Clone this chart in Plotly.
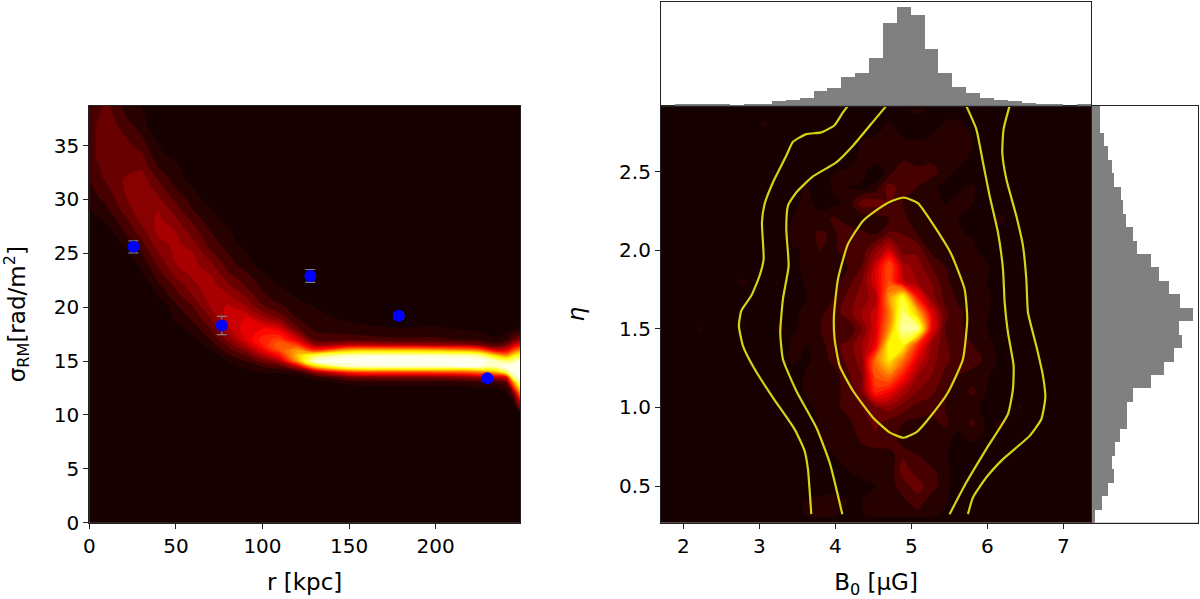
import numpy as np
import plotly.graph_objects as go

# Measured rotation measure dispersion per annulus
r_obs = [25.5, 76.5, 127.6, 178.7, 229.8]
sigma_obs = [25.6, 18.3, 22.9, 19.2, 13.4]
sigma_err = [0.55, 0.85, 0.6, 0.3, 0.3]

# Posterior density of sigma_RM(r), one list per radius, in percent of the colour range
sigma_rows = [0, 10, 11, 12, 13, 13.5, 14, 14.5, 15, 15.5, 16, 16.5, 17, 18, 19, 20, 21, 22, 23, 24,
              25, 26, 27, 28, 29, 30, 31, 32, 33, 34, 35, 36, 37, 38, 38.7]
r_cols = [0, 10, 20, 30, 40, 50, 60, 70, 80, 90, 100, 110, 120, 130, 150, 175, 200, 225, 235, 241, 245, 249]
density_by_r = [
    [0,0,0,0,0,0,0,0,0,0,0,0,0,0,0,0,0,0,0,0,0,0,0,0,4,6,7,8,9,10,10,10,10,9,9],
    [0,0,0,0,0,0,0,0,0,0,0,0,0,0,0,0,0,0,0,0,0,0,2,5,7,9,11,13,14,15,15,15.5,15,14,13],
    [0,0,0,0,0,0,0,0,0,0,0,0,0,0,0,0,0,0,0,0,2,5,8,10,13,15,16,16,16,15,14,12,10,8,7],
    [0,0,0,0,0,0,0,0,0,0,0,0,0,0,0,0,0,0,3,5,8,11,14,17,19,20,20,18,15,13,10,8,6,5,4],
    [0,0,0,0,0,0,0,0,0,0,0,0,0,0,0,0,4,7,10,13,16,19,21,21,20,17,14,11,8,5,4,2,0,0,0],
    [0,0,0,0,0,0,0,0,0,0,0,0,0,2,5,7,10,13,17,20,21,21,20,17,14,11,8,6,5,3,0,0,0,0,0],
    [0,0,0,0,0,0,0,0,0,0,0,0,3,6,9,12,16,19,21,21,20,17,14,11,8,6,4,2,0,0,0,0,0,0,0],
    [0,0,0,0,0,0,0,0,0,0,4,6,8,12,16,20,22,22,20,17,13,10,8,6,4.5,2,0,0,0,0,0,0,0,0,0],
    [0,0,0,0,0,0,0,2,4,7,10,13,17,23,26,25,21,17,13,10,8,6,5,3,0,0,0,0,0,0,0,0,0,0,0],
    [0,0,0,0,0,0,3,5,8,12,17,23,28,30,28,21,16,12,9,6,4.5,2,0,0,0,0,0,0,0,0,0,0,0,0,0],
    [0,0,0,0,0,2,4.5,8,14,22,30,36,38,32,21,13,9,7,5,2,0,0,0,0,0,0,0,0,0,0,0,0,0,0,0],
    [0,0,0,0,0,2,5,11,22,34,45,48,42,28,15,9,6,4,0,0,0,0,0,0,0,0,0,0,0,0,0,0,0,0,0],
    [0,0,0,0,0,2,7,24,55,62,56,42,28,13,8,6,3.5,0,0,0,0,0,0,0,0,0,0,0,0,0,0,0,0,0,0],
    [0,0,0,0,2,6,20,62,96,80,40,20,11,7,5.5,4,0,0,0,0,0,0,0,0,0,0,0,0,0,0,0,0,0,0,0],
    [0,0,0,0,5,14,42,92,100,94,60,24,10,6,3,0,0,0,0,0,0,0,0,0,0,0,0,0,0,0,0,0,0,0,0],
    [0,0,0,0,6,16,45,95,100,96,62,22,9,4.5,0,0,0,0,0,0,0,0,0,0,0,0,0,0,0,0,0,0,0,0,0],
    [0,0,0,0,6,16,46,95,100,95,60,20,9,4.5,2,0,0,0,0,0,0,0,0,0,0,0,0,0,0,0,0,0,0,0,0],
    [0,0,0,0,7,20,52,96,100,90,50,16,7,3,0,0,0,0,0,0,0,0,0,0,0,0,0,0,0,0,0,0,0,0,0],
    [0,0,0,0,8,24,62,94,92,65,28,10,5,0,0,0,0,0,0,0,0,0,0,0,0,0,0,0,0,0,0,0,0,0,0],
    [0,0,0,4,12,30,85,100,85,55,30,16,8,2,0,0,0,0,0,0,0,0,0,0,0,0,0,0,0,0,0,0,0,0,0],
    [0,0,3,14,55,88,100,100,90,70,45,26,13,4,0,0,0,0,0,0,0,0,0,0,0,0,0,0,0,0,0,0,0,0,0],
    [0,4,24,55,92,100,100,100,98,80,55,34,18,5,0,0,0,0,0,0,0,0,0,0,0,0,0,0,0,0,0,0,0,0,0],
]

# Joint posterior of B0 and eta, one list per eta value from the top down
b0_cols = [1.7, 2.05, 2.21, 2.37, 2.78, 3.07, 3.25, 3.43, 3.62, 3.80, 3.98, 4.16, 4.35, 4.53, 4.71, 4.89,
           5.08, 5.26, 5.44, 5.62, 5.81, 5.99, 6.17, 6.35, 6.42, 6.6, 7.36]
eta_rows = [2.9, 2.8, 2.7, 2.6, 2.5, 2.4, 2.3, 2.2, 2.1, 2.0, 1.9, 1.8, 1.7, 1.6, 1.5, 1.4, 1.3, 1.2, 1.1,
            1.0, 0.9, 0.8, 0.7, 0.6, 0.5, 0.4, 0.3]
density_by_eta = [
    [0,0,0,0,0,0, 0,0,0,0,0,0,0,0,0,3,6,3,0,0,0,5,0,0, 0,0,0],
    [0,0,0,0,0,5, 0,0,0,0,0,0,0,0,5,0,0,0,5,6,0,0,0,0, 0,0,0],
    [0,0,0,0,0,0, 0,0,0,0,0,0,4,6,8,5,4,6,6,7,4,0,0,0, 0,0,0],
    [0,0,0,0,0,0, 0,0,0,0,0,0,6,8,7,6,6,6,8,6,3,0,0,0, 0,0,0],
    [0,0,0,0,0,0, 0,0,0,0,4,5,6,0,6,12,9,10,6,3,0,0,0,0, 0,0,0],
    [0,0,0,0,0,0, 0,0,5,0,5,4,3,6,14,10,8,5,3,3,5,0,0,0, 0,0,0],
    [0,0,0,0,0,0, 0,3,5,3,3,5,14,14,12,8,7,5,4,6,4,0,0,0, 0,0,0],
    [0,0,0,0,0,0, 0,4,6,5,9,5,5,6,8,9,6,6,8,4,0,0,6,0, 0,0,0],
    [0,0,0,0,0,0, 0,6,6,9,7,12,9,8,13,12,8,6,5,5,3,0,0,0, 0,0,0],
    [0,0,0,0,0,0, 0,3,5,8,6,12,9,18,26,14,15,7,6,5,6,0,0,0, 0,0,0],
    [0,0,0,0,0,0, 0,3,5,6,5,8,12,26,45,22,18,12,8,6,6,5,0,0, 0,0,0],
    [0,0,0,0,5,0, 0,0,5,8,6,10,16,28,45,25,20,16,9,6,5,4,0,0, 0,0,0],
    [0,0,0,0,0,0, 0,3,4,6,8,13,18,22,55,76,35,18,11,7,5,6,0,0, 0,0,0],
    [0,0,0,0,0,0, 0,3,5,7,10,14,20,26,50,84,62,30,13,9,6,5,0,0, 0,0,0],
    [0,0,5,0,0,0, 5,3,6,8,10,8,16,28,55,90,88,32,12,9,6,4,0,0, 0,0,0],
    [0,0,0,0,0,0, 0,5,4,6,11,13,20,30,72,72,40,20,13,9,8,5,3,0, 0,0,0],
    [0,0,0,0,0,0, 0,5,3,6,9,13,18,50,68,50,28,18,13,10,10,7,3,0, 0,0,0],
    [0,0,0,0,0,0, 0,0,5,4,6,11,16,45,50,35,20,16,11,8,6,5,0,0, 0,0,0],
    [0,0,0,0,0,0, 0,0,5,5,6,10,16,38,32,22,16,13,9,6,9,4,0,0, 0,0,0],
    [0,0,0,0,0,0, 0,0,3,5,7,9,12,15,18,14,10,10,8,5,5,3,0,0, 5,0,0],
    [0,0,0,0,0,0, 0,0,0,5,6,7,10,13,10,8,7,6,9,5,9,3,5,0, 0,0,0],
    [0,0,0,0,0,0, 0,0,0,4,5,5,9,11,12,5,6,6,5,3,5,3,3,0, 0,0,0],
    [0,0,0,0,0,0, 0,0,0,0,4,5,6,6,6,11,8,5,5,0,0,0,0,0, 0,0,0],
    [0,0,0,0,0,0, 0,3,0,0,3,4,5,5,5,14,10,9,6,0,0,0,0,0, 0,0,0],
    [0,0,0,0,0,0, 0,0,0,0,3,4,3,4,6,10,14,10,6,0,0,0,0,0, 0,0,0],
    [0,0,0,0,0,0, 0,0,5,6,5,4,4,6,7,7,10,6,5,0,0,0,0,0, 0,0,0],
    [0,0,0,0,0,0, 0,0,5,5,4,3,3,6,6,5,6,4,3,0,0,0,0,0, 0,0,0],
]

# Credible-region contours of the joint posterior
outer_left_b0 = [4.166,4.10,3.99,3.815,3.618,3.443,3.355,3.179,3.07,3.035,3.057,3.004,2.894,2.763,2.732,2.785,2.938,3.179,3.464,3.596,3.64,3.684]
outer_left_eta = [2.919,2.877,2.796,2.75,2.739,2.69,2.601,2.431,2.294,2.177,1.943,1.838,1.71,1.615,1.519,1.392,1.244,1.063,0.862,0.724,0.607,0.321]
inner_left_b0 = [4.671,4.517,4.232,4.013,3.706,3.486,3.377,3.355,3.386,3.311,3.276,3.311,3.486,3.75,3.925,4.092]
inner_left_eta = [2.919,2.83,2.665,2.559,2.47,2.368,2.283,2.134,1.901,1.689,1.477,1.307,1.106,0.872,0.65,0.321]
core_b0 = [4.899,5.087,5.285,5.526,5.701,5.736,5.679,5.482,5.241,5.074,4.899,4.714,4.495,4.232,4.057,3.991,3.982,4.035,4.166,4.364,4.561,4.714,4.899]
core_eta = [2.336,2.30,2.166,1.975,1.753,1.562,1.307,1.095,0.936,0.845,0.807,0.841,0.936,1.106,1.265,1.435,1.583,1.816,2.039,2.187,2.262,2.308,2.336]
inner_right_b0 = [5.723,5.855,5.943,6.03,6.14,6.206,6.228,6.271,6.346,6.337,6.271,5.986,5.723,5.504]
inner_right_eta = [2.919,2.771,2.559,2.347,2.113,1.88,1.668,1.477,1.265,1.116,0.957,0.735,0.522,0.321]
outer_right_b0 = [6.293,6.214,6.197,6.25,6.381,6.469,6.513,6.535,6.644,6.732,6.763,6.71,6.557,6.206,5.986,5.811,5.745]
outer_right_eta = [2.919,2.771,2.622,2.453,2.219,2.028,1.816,1.604,1.392,1.201,1.063,0.925,0.819,0.671,0.554,0.427,0.321]

# Marginal histograms
b0_counts = [0,3,3,6,3,2,6,6,13,18,24,43,53,85,97,144,249,297,272,170,97,57,38,24,18,13,9,3,3,0,3]
eta_counts = [10,29,47,65,61,69,83,105,105,124,178,217,247,269,262,302,265,230,200,178,134,123,102,93,87,65,59,47,36,25,25]

B0_MIN, B0_MAX = 1.707, 7.364
ETA_MIN, ETA_MAX = 0.2665, 2.92
N_BINS = 31

HOT = [[0, "rgb(23,0,0)"], [0.30, "rgb(255,0,0)"], [0.70, "rgb(255,255,0)"], [1, "rgb(255,255,255)"]]
DARK = "#170000"
W, H = 1200, 599


def hx(a, b):
    return [a / W, b / W]


def vy(top, bottom):
    return [(H - bottom) / H, (H - top) / H]


def density_trace(x, y, z, xaxis, yaxis):
    return go.Contour(
        x=x, y=y, z=z, xaxis=xaxis, yaxis=yaxis, colorscale=HOT, zmin=0, zmax=100,
        autocontour=False, contours=dict(start=4, end=100, size=4, coloring="fill"),
        line=dict(width=0), showscale=False,
    )


fig = go.Figure()
fig.add_trace(density_trace(r_cols, sigma_rows, np.array(density_by_r).T.tolist(), "x", "y"))
fig.add_trace(go.Scatter(
    x=r_obs, y=sigma_obs, mode="markers", xaxis="x", yaxis="y",
    marker=dict(color="#0000ff", size=12),
    error_y=dict(type="data", array=sigma_err, color="#808080", thickness=1.2, width=5),
))

fig.add_trace(density_trace(b0_cols, eta_rows, density_by_eta, "x2", "y2"))
for bx, by in [(outer_left_b0, outer_left_eta), (inner_left_b0, inner_left_eta), (core_b0, core_eta),
               (inner_right_b0, inner_right_eta), (outer_right_b0, outer_right_eta)]:
    fig.add_trace(go.Scatter(x=bx, y=by, mode="lines", xaxis="x2", yaxis="y2",
                             line=dict(color="#d4d414", width=2.2, shape="spline", smoothing=0.5)))

db0 = (B0_MAX - B0_MIN) / N_BINS
deta = (ETA_MAX - ETA_MIN) / N_BINS
fig.add_trace(go.Bar(x0=B0_MIN + db0 / 2, dx=db0, y=b0_counts, xaxis="x3", yaxis="y3",
                     marker=dict(color="#808080", line=dict(width=0))))
fig.add_trace(go.Bar(y0=ETA_MIN + deta / 2, dy=deta, x=eta_counts, orientation="h", xaxis="x4", yaxis="y4",
                     marker=dict(color="#808080", line=dict(width=0))))

tick_font = dict(family="DejaVu Sans", size=20, color="black")
title_font = dict(family="DejaVu Sans", size=23, color="black")
frame = dict(showline=True, mirror=True, linecolor="#222222", linewidth=1.2, showgrid=False, zeroline=False,
             automargin=False)
ticks = dict(ticks="outside", ticklen=5, tickwidth=1.2, tickcolor="#222222", tickfont=tick_font)
bare = dict(showticklabels=False, ticks="", **frame)

fig.update_layout(
    template="none",
    width=W, height=H, margin=dict(l=0, r=0, t=0, b=0, pad=0), showlegend=False,
    paper_bgcolor="white", plot_bgcolor=DARK, bargap=0,
    xaxis=dict(domain=hx(89.3, 520), range=[0, 248.7], tickvals=[0, 50, 100, 150, 200],
               title=dict(text="r [kpc]", font=title_font, standoff=17), **frame, **ticks),
    yaxis=dict(domain=vy(105.7, 522.7), range=[0, 38.7], tickvals=[0, 5, 10, 15, 20, 25, 30, 35],
               title=dict(text="σ<sub>RM</sub>[rad/m<sup>2</sup>]", font=title_font, standoff=24), **frame, **ticks),
    xaxis2=dict(domain=hx(661, 1091), range=[B0_MIN, B0_MAX], tickvals=[2, 3, 4, 5, 6, 7], anchor="y2",
                title=dict(text="B<sub>0</sub> [μG]", font=title_font, standoff=17), **frame, **ticks),
    yaxis2=dict(domain=vy(105.7, 522.7), range=[ETA_MIN, ETA_MAX], tickvals=[0.5, 1.0, 1.5, 2.0, 2.5],
                tickformat=".1f", anchor="x2",
                title=dict(text="<i>η</i>", font=title_font, standoff=28), **frame, **ticks),
    xaxis3=dict(domain=hx(661, 1091), range=[B0_MIN, B0_MAX], anchor="y3", **bare),
    yaxis3=dict(domain=vy(2, 105.7), range=[0, 311], anchor="x3", **bare),
    xaxis4=dict(domain=hx(1091.5, 1198), range=[0, 320], anchor="y4", **bare),
    yaxis4=dict(domain=vy(105.7, 522.7), range=[ETA_MIN, ETA_MAX], anchor="x4", **bare),
)

# The marginal panels sit on a white ground while the density panels stay dark
fig.add_shape(type="rect", xref="x3 domain", yref="y3 domain", x0=0, x1=1, y0=0, y1=1,
              fillcolor="white", line_width=0, layer="below")
fig.add_shape(type="rect", xref="x4 domain", yref="y4 domain", x0=0, x1=1, y0=0, y1=1,
              fillcolor="white", line_width=0, layer="below")

fig.write_html("out.html")
